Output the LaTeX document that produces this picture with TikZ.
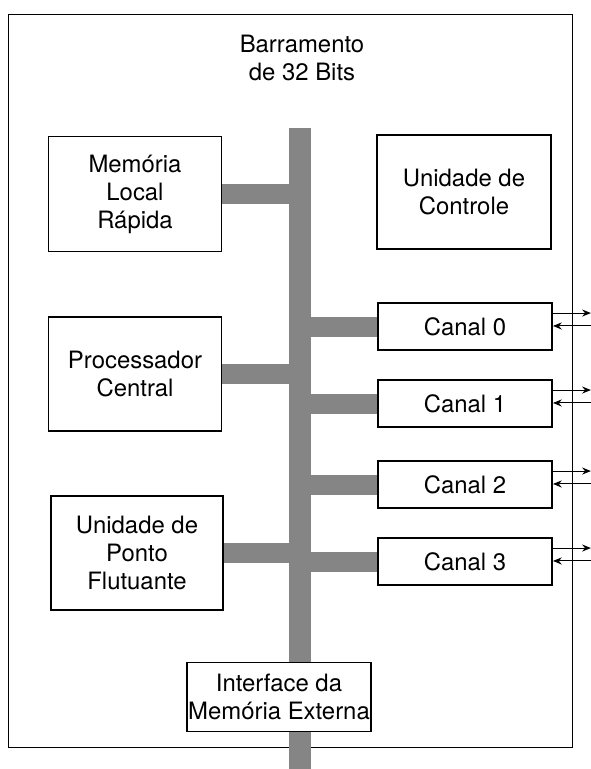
\documentclass[tikz,border=0pt]{standalone}
\usepackage{fontspec}
\setmainfont{TeX Gyre Heros}
\usetikzlibrary{arrows.meta,calc}

\begin{document}
\begin{tikzpicture}[>={Stealth[length=5pt,width=4pt]}, x=0.02cm, y=-0.02cm,
    unit/.style={draw, line width=1.1pt, fill=white, align=center, inner sep=0pt,
        font=\fontsize{13.6}{16}\selectfont},
    busbar/.style={fill=black!48, draw=none, inner sep=0pt},
    tap/.style={draw=black!48, line width=0.4cm},
    sig/.style={line width=0.6pt}]
\useasboundingbox (0,0) rectangle (591,769);

% === Frame and title ===
\node[draw, line width=0.5pt, inner sep=0pt, minimum width=11.28cm, minimum height=14.68cm] (frame) at (290,381) {};
\node[align=center, font=\fontsize{13.6}{16}\selectfont] (title) at (302,58) {Barramento\\de 32 Bits};

% === Bus ===
\node[busbar, minimum width=0.44cm, minimum height=12.82cm] (bus) at (300,448.5) {};

% === Left: units ===
\node[unit, minimum width=3.46cm, minimum height=2.3cm] (mem) at (135,194) {Memória\\Local\\Rápida};
\node[unit, minimum width=3.46cm, minimum height=2.28cm] (cpu) at (135,374) {Processador\\Central};
\node[unit, minimum width=3.44cm, minimum height=2.28cm] (fpu) at (137,553) {Unidade de\\Ponto\\Flutuante};

\foreach \u in {mem, cpu, fpu} {
    \draw[tap] (\u.east) -- (\u.east -| bus.west);
}

% === Right: control and channels ===
\node[unit, minimum width=3.48cm, minimum height=2.28cm] (ctrl) at (464,192) {Unidade de\\Controle};

\foreach \i/\yc in {0/326.5, 1/403.5, 2/484.5, 3/561.5} {
    \node[unit, minimum width=3.48cm, minimum height=0.94cm] (c\i) at (465,\yc) {Canal \i};
    \draw[tap] (bus.east |- c\i.west) -- (c\i.west);
    \draw[sig,->] ($(c\i.north east)+(0,11)$) -- ++(38,0);
    \draw[sig,<-] ($(c\i.south east)+(0,-25)$) -- ++(38,0);
}

% === Bottom: memory interface ===
\node[unit, minimum width=3.68cm, minimum height=1.38cm] (ext) at (279,697) {Interface da\\Memória Externa};
\end{tikzpicture}
\end{document}
